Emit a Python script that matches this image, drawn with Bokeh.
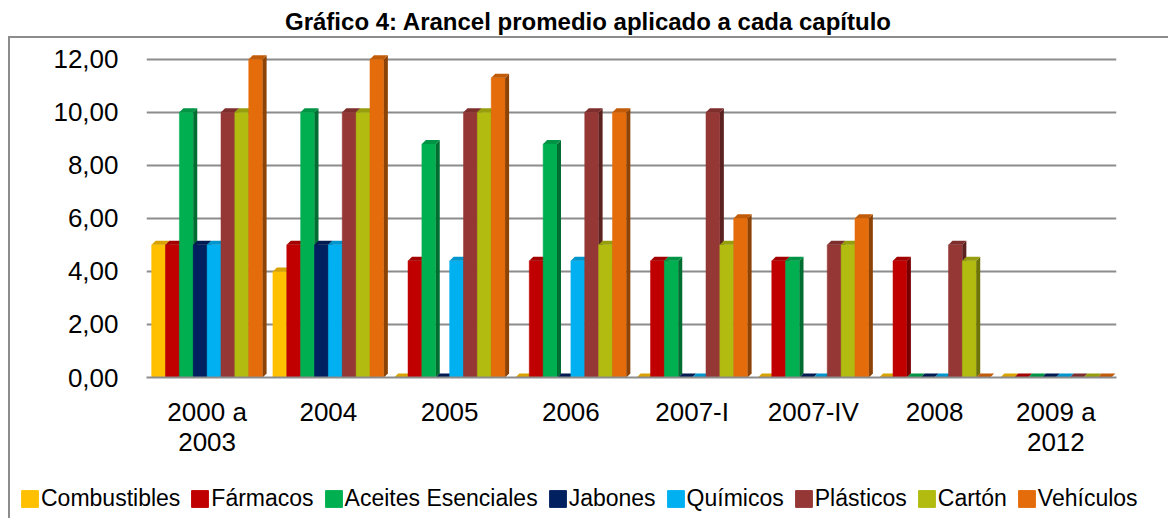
from bokeh.plotting import figure
from bokeh.models import (Legend, LegendItem, FixedTicker, ColumnDataSource, Range1d, Div)
from bokeh.layouts import column
from bokeh.embed import file_html
from bokeh.resources import INLINE

# ---- data ----
periods = ["2000 a\n2003", "2004", "2005", "2006", "2007-I", "2007-IV", "2008", "2009 a\n2012"]
series_names = ["Combustibles", "Fármacos", "Aceites Esenciales", "Jabones",
                "Químicos", "Plásticos", "Cartón", "Vehículos"]
combustibles = [5.0, 4.0, 0.0, 0.0, 0.0, 0.0, 0.0, 0.0]
farmacos     = [5.0, 5.0, 4.4, 4.4, 4.4, 4.4, 4.4, 0.0]
aceites      = [10.0, 10.0, 8.8, 8.8, 4.4, 4.4, 0.0, 0.0]
jabones      = [5.0, 5.0, 0.0, 0.0, 0.0, 0.0, 0.0, 0.0]
quimicos     = [5.0, 5.0, 4.4, 4.4, 0.0, 0.0, 0.0, 0.0]
plasticos    = [10.0, 10.0, 10.0, 10.0, 10.0, 5.0, 5.0, 0.0]
carton       = [10.0, 10.0, 10.0, 5.0, 5.0, 5.0, 4.4, 0.0]
vehiculos    = [12.0, 12.0, 11.3, 10.0, 6.0, 6.0, 0.0, 0.0]
y_ticks = [0, 2, 4, 6, 8, 10, 12]
y_tick_labels = ["0,00", "2,00", "4,00", "6,00", "8,00", "10,00", "12,00"]
title_text = "Gráfico 4: Arancel promedio aplicado a cada capítulo"

series_values = [combustibles, farmacos, aceites, jabones, quimicos, plasticos, carton, vehiculos]
colors = ["#FFC000", "#C00000", "#00B050", "#002060", "#00B0F0", "#953735", "#B1BB10", "#E46C0A"]

FONT = "Liberation Sans"
BORDER = "2px solid #8C8C8C"


def shade(hex_color, f):
    h = hex_color.lstrip("#")
    r, g, b = (int(h[i:i + 2], 16) for i in (0, 2, 4))
    return "#%02x%02x%02x" % (int(r * f), int(g * f), int(b * f))


W, H = 1160, 432
FL, FR, FT, FB = 136, 1106, 14, 339          # frame edges (canvas px)
p = figure(width=W, height=H, output_backend="svg", toolbar_location=None,
           x_range=Range1d(0, len(periods)), y_range=Range1d(0, 12.25),
           min_border_left=FL, min_border_right=W - FR, min_border_top=FT,
           min_border_bottom=H - FB)
p.styles = {"border-top": BORDER, "border-left": BORDER, "margin-left": "8px"}
p.frame_align = False

n_ser = len(series_names)
bar_w = 0.915 / n_ser
dx = 4.0 / ((FR - FL) / len(periods))       # depth in x (data units)
dy = 4.0 / ((FB - FT) / 12.25)              # depth in y (data units)

for j, (name, vals, col) in enumerate(zip(series_names, series_values, colors)):
    xc = [i + 0.5 + (j - (n_ser - 1) / 2) * bar_w for i in range(len(periods))]
    src = ColumnDataSource(dict(x=xc, top=vals))
    p.vbar(x="x", top="top", width=bar_w, source=src,
           fill_color=col, line_color=col, line_width=0.5)
    side_xs, side_ys, top_xs, top_ys = [], [], [], []
    for x, v in zip(xc, vals):
        xr, xl = x + bar_w / 2, x - bar_w / 2
        if v > 0:
            side_xs.append([xr, xr + dx, xr + dx, xr])
            side_ys.append([0, dy, v + dy, v])
        top_xs.append([xl, xr, xr + dx, xl + dx])
        top_ys.append([v, v, v + dy, v + dy])
    if side_xs:
        p.patches(side_xs, side_ys, fill_color=shade(col, 0.62), line_color=None)
    p.patches(top_xs, top_ys, fill_color=shade(col, 0.85), line_color=None)

# axes styling
p.yaxis.ticker = FixedTicker(ticks=y_ticks)
p.yaxis.major_label_overrides = {t: l for t, l in zip(y_ticks, y_tick_labels)}
p.yaxis.major_label_text_font = FONT
p.yaxis.major_label_text_font_size = "26px"
p.yaxis.major_label_text_color = "#000000"
p.yaxis.axis_line_color = None
p.yaxis.major_tick_line_color = None
p.yaxis.minor_tick_line_color = None
p.yaxis.major_label_standoff = 22

x_ticks = [i + 0.5 for i in range(len(periods))]
p.xaxis.ticker = FixedTicker(ticks=x_ticks)
p.xaxis.major_label_overrides = {t: l for t, l in zip(x_ticks, periods)}
p.xaxis.major_label_text_font = FONT
p.xaxis.major_label_text_font_size = "26px"
p.xaxis.major_label_text_line_height = 1.0
p.xaxis.major_label_text_color = "#000000"
p.xaxis.axis_line_color = "#8C8C8C"
p.xaxis.axis_line_width = 2
p.xaxis.major_tick_line_color = None
p.xaxis.minor_tick_line_color = None
p.xaxis.major_label_standoff = 13

p.xgrid.grid_line_color = None
p.ygrid.grid_line_color = "#8C8C8C"
p.ygrid.grid_line_width = 2
p.outline_line_color = None

# ---- legend in its own strip ----
LH = 50
pl = figure(width=W, height=LH, output_backend="svg", toolbar_location=None,
            x_range=Range1d(0, 1), y_range=Range1d(0, 1),
            min_border_left=0, min_border_right=0, min_border_top=0, min_border_bottom=0)
pl.styles = {"border-left": BORDER, "margin-left": "8px"}
pl.frame_align = False
pl.axis.visible = False
pl.grid.visible = False
pl.outline_line_color = None
items = []
for name, col in zip(series_names, colors):
    rr = pl.vbar(x=[-5], top=[-5], bottom=[-6], width=1, fill_color=col, line_color=col)
    items.append(LegendItem(label=name, renderers=[rr]))
legend = Legend(items=items, orientation="horizontal", location=(9, 6),
                glyph_width=21, glyph_height=21, label_standoff=1, spacing=9,
                padding=0, margin=0, border_line_color=None, background_fill_alpha=0,
                label_text_font=FONT, label_text_font_size="23px",
                label_text_color="#000000")
pl.add_layout(legend, "center")

title = Div(text=title_text, width=1166, height=26,
            styles={"font-family": FONT, "font-size": "24px", "font-weight": "bold",
                    "text-align": "center", "color": "#000000"})

layout = column(title, p, pl)
open("out.html", "w").write(file_html(layout, INLINE))
